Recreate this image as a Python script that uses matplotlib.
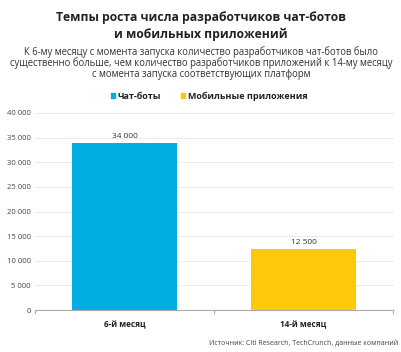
import matplotlib
matplotlib.use("Agg")
import matplotlib.pyplot as plt
from matplotlib.patches import Patch

categories = ["6-й месяц", "14-й месяц"]
values = [34000, 12500]
value_labels = ["34 000", "12 500"]
series_names = ["Чат-боты", "Мобильные приложения"]
colors = ["#00AEE3", "#FFC90A"]
yticks = [0, 5000, 10000, 15000, 20000, 25000, 30000, 35000, 40000]
ytick_labels = ["0", "5 000", "10 000", "15 000", "20 000", "25 000", "30 000", "35 000", "40 000"]

plt.rcParams['font.family'] = ['Open Sans', 'DejaVu Sans']

fig = plt.figure(figsize=(4.02, 3.52), dpi=100)
ax = fig.add_axes([0.087, 0.119, 0.891, 0.56])

bars = ax.bar(range(len(categories)), values, width=0.59, color=colors)
for i, (v, lab) in enumerate(zip(values, value_labels)):
    ax.text(i, v + 600, lab, ha='center', va='bottom', fontsize=6, color='#333333')

ax.set_xlim(-0.5, 1.5)
ax.set_ylim(0, 40000)
ax.set_yticks(yticks)
ax.set_yticklabels(ytick_labels, fontsize=5.5, color='#444444')
ax.set_xticks(range(len(categories)))
ax.set_xticklabels(categories, fontsize=5.9, fontweight='bold', color='#222222')
ax.tick_params(axis='y', length=0, pad=3)
ax.tick_params(axis='x', length=0, pad=7)
ax.yaxis.grid(True, linestyle=(0, (1, 1)), color='#d0d0d0', linewidth=0.6)
ax.set_axisbelow(True)
for s in ['top', 'right', 'left']:
    ax.spines[s].set_visible(False)
ax.spines['bottom'].set_color('#aaaaaa')
ax.spines['bottom'].set_linewidth(0.8)
for xx in [-0.5, 0.5, 1.5]:
    ax.plot([xx, xx], [0, -500], color='#aaaaaa', lw=0.8, clip_on=False)

fig.text(0.5, 0.926, "Темпы роста числа разработчиков чат-ботов\nи мобильных приложений",
         ha='center', va='center', fontsize=8.7, fontweight='bold', color='#222222', linespacing=1.45)
fig.text(0.5, 0.821, "К 6-му месяцу с момента запуска количество разработчиков чат-ботов было\n"
         "существенно больше, чем количество разработчиков приложений к 14-му месяцу\n"
         "с момента запуска соответствующих платформ",
         ha='center', va='center', fontsize=6.85, color='#333333', linespacing=0.98)

handles = [Patch(color=c, label=n) for c, n in zip(colors, series_names)]
leg = fig.legend(handles=handles, loc='center', bbox_to_anchor=(0.52, 0.727), ncol=2,
                 frameon=False, fontsize=6.5, handlelength=0.45, handleheight=0.45,
                 handletextpad=0.3, columnspacing=2.2)
for t in leg.get_texts():
    t.set_fontweight('bold')
    t.set_color('#222222')

fig.text(0.99, 0.026, "Источник: Citi Research, TechCrunch, данные компаний",
         ha='right', va='center', fontsize=5, color='#444444')

fig.savefig("out.png", dpi=100, facecolor='white')
